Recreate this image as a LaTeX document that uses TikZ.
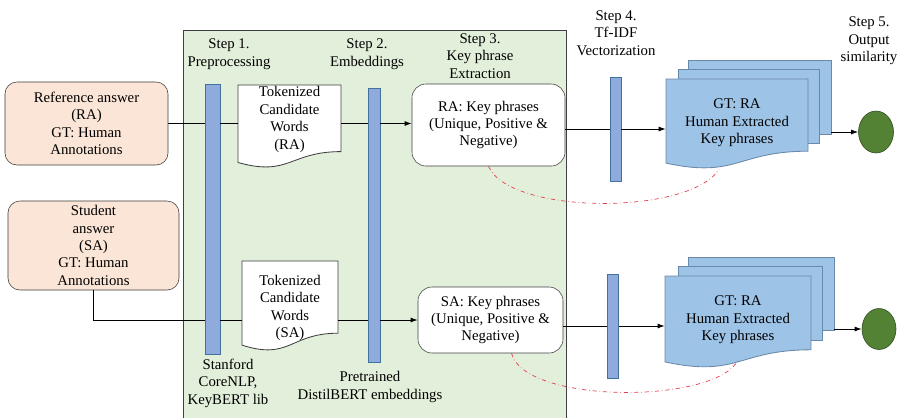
\documentclass[tikz,border=0pt]{standalone}
\usepackage{fontspec}
\setmainfont{Liberation Serif}
\usetikzlibrary{shapes.geometric,arrows.meta}
\definecolor{peach}{HTML}{FBE5D6}
\definecolor{boxline}{HTML}{404040}
\definecolor{panelfill}{HTML}{E2EFDA}
\definecolor{barfill}{HTML}{8FAADC}
\definecolor{barline}{HTML}{41719C}
\definecolor{pagefill}{HTML}{9DC3E6}
\definecolor{pageline}{HTML}{6A88A8}
\definecolor{outfill}{HTML}{548235}
\definecolor{outline}{HTML}{2E4A1E}
\definecolor{simred}{HTML}{E0404F}
\begin{document}
\begin{tikzpicture}[x=0.025cm,y=-0.025cm,
	txt/.style={align=center,font=\fontsize{10.5}{12.4}\selectfont},
	answer/.style={txt,draw=boxline,fill=peach,rounded corners=0.3cm,inner sep=0pt},
	phrase/.style={txt,draw=boxline,fill=white,rounded corners=0.35cm,inner sep=0pt},
	stepbar/.style={draw=barline,fill=barfill,inner sep=0pt},
	backpage/.style={draw=pageline,fill=pagefill,inner sep=0pt},
	docpage/.style={draw=boxline,fill=white,line width=0.6pt},
	frontpage/.style={draw=pageline,fill=pagefill,line width=0.6pt},
	outnode/.style={ellipse,draw=outline,fill=outfill,inner sep=0pt},
	conn/.style={line width=0.6pt},
	arr/.style={line width=0.6pt,-{Latex[length=5pt,width=3.5pt]}},
	simline/.style={simred,dash dot,line width=0.5pt}]
	
	\useasboundingbox (0,0) rectangle (905,417);
	
	% green panel
	\draw[draw=boxline,fill=panelfill,line width=0.6pt] (183,30) rectangle (566,425);
	
	% step titles
	\node[txt] (step1) at (229,54) {Step 1.\\Preprocessing};
	\node[txt] (step2) at (367,54) {Step 2.\\Embeddings};
	\node[txt] (step3) at (480,56) {Step 3.\\Key phrase\\Extraction};
	\node[txt] (step4) at (616,33) {Step 4.\\Tf-IDF\\Vectorization};
	\node[txt] (step5) at (869,41) {Step 5.\\Output\\similarity};
	
	% inputs
	\node[answer,minimum width=4.075cm,minimum height=2.075cm] (ref) at (86.5,123.5) {Reference answer\\(RA)\\GT: Human\\Annotations};
	\node[answer,minimum width=4.275cm,minimum height=2.225cm] (stud) at (93.5,245.5) {Student\\answer\\(SA)\\GT: Human\\Annotations};
	
	% bars
	\node[stepbar,minimum width=0.375cm,minimum height=6.75cm] (bar1) at (212.5,219) {};
	\node[stepbar,minimum width=0.3cm,minimum height=6.85cm] (bar2) at (374,225) {};
	\node[stepbar,minimum width=0.275cm,minimum height=2.6cm] (bar3) at (615.5,129) {};
	\node[stepbar,minimum width=0.275cm,minimum height=2.6cm] (bar4) at (613,326) {};
	
	\node[txt] (lib1) at (228,383) {Stanford\\CoreNLP,\\KeyBERT lib};
	\node[txt] (lib2) at (370,387) {Pretrained\\DistilBERT embeddings};
	
	% tokenized words
	\draw[docpage] (238,85) -- (341,85) -- (341,151.6) .. controls (289.5,151.6) and (289.5,176.9) .. (238,162.5) -- cycle;
	\node[txt,minimum width=2.575cm,inner sep=0pt] (tok1) at (289.5,119.5) {Tokenized\\Candidate\\Words\\(RA)};
	\draw[docpage] (242,261) -- (338,261) -- (338,333.2) .. controls (290,333.2) and (290,360.6) .. (242,345.1) -- cycle;
	\node[txt,minimum width=2.4cm,inner sep=0pt] (tok2) at (290,308) {Tokenized\\Candidate\\Words\\(SA)};
	
	% key phrases
	\node[phrase,minimum width=3.825cm,minimum height=2.05cm] (rakp) at (488.5,125) {RA: Key phrases\\(Unique, Positive \&\\Negative)};
	\node[phrase,minimum width=3.625cm,minimum height=1.65cm] (sakp) at (490.5,320) {SA: Key phrases\\(Unique, Positive \&\\Negative)};
	
	% human extracted stacks
	\node[backpage,minimum width=3.575cm,minimum height=1.85cm] (gt1b) at (759.5,97) {};
	\node[backpage,minimum width=3.525cm,minimum height=1.85cm] (gt1m) at (748.5,106) {};
	\draw[frontpage] (666,79) -- (808,79) -- (808,151.2) .. controls (737,151.2) and (737,178.6) .. (666,163.1) -- cycle;
	\node[txt,minimum width=3.55cm,minimum height=2.3cm,inner sep=0pt] (gt1) at (737,123) {GT: RA\\Human Extracted\\Key phrases};
	
	\node[backpage,minimum width=3.65cm,minimum height=1.825cm] (gt2b) at (761,293.5) {};
	\node[backpage,minimum width=3.6cm,minimum height=1.85cm] (gt2m) at (750,303) {};
	\draw[frontpage] (665,276) -- (811,276) -- (811,349.8) .. controls (738,349.8) and (738,377.8) .. (665,361.9) -- cycle;
	\node[txt,minimum width=3.65cm,minimum height=2cm,inner sep=0pt] (gt2) at (738,320) {GT: RA\\Human Extracted\\Key phrases};
	
	% outputs
	\node[outnode,minimum width=0.875cm,minimum height=1.05cm] (out1) at (876,132) {};
	\node[outnode,minimum width=0.85cm,minimum height=1.025cm] (out2) at (879,329) {};
	
	% top row
	\draw[conn] (ref.east) -- (ref.east -| bar1.west);
	\draw[conn] (bar1.east |- ref.east) -- (tok1.west |- ref.east);
	\draw[conn] (tok1.east |- ref.east) -- (bar2.west |- ref.east);
	\draw[arr] (bar2.east |- ref.east) -- (rakp.west |- ref.east);
	\draw[conn] (bar3.west -| rakp.east) -- (bar3.west);
	\draw[arr] (bar3.east) -- (bar3.east -| gt1.west);
	\draw[arr] (out1.west -| gt1b.east) -- (out1.west);
	
	% bottom row
	\draw[conn] (stud.south) |- (bar1.west |- sakp.west);
	\draw[conn] (bar1.east |- sakp.west) -- (tok2.west |- sakp.west);
	\draw[conn] (tok2.east |- sakp.west) -- (bar2.west |- sakp.west);
	\draw[arr] (bar2.east |- sakp.west) -- (sakp.west);
	\draw[conn] (bar4.west -| sakp.east) -- (bar4.west);
	\draw[arr] (bar4.east) -- (bar4.east -| gt2.west);
	\draw[arr] (out2.west -| gt2b.east) -- (out2.west);
	
	% similarity links
	\draw[simline] (rakp.south) .. controls +(21.5,49) and +(-29,46) .. ([xshift=-0.45cm]gt1.south);
	\draw[simline] ([xshift=0.525cm]sakp.south) .. controls +(13,51) and +(-23,44) .. (gt2.south);
\end{tikzpicture}
\end{document}
